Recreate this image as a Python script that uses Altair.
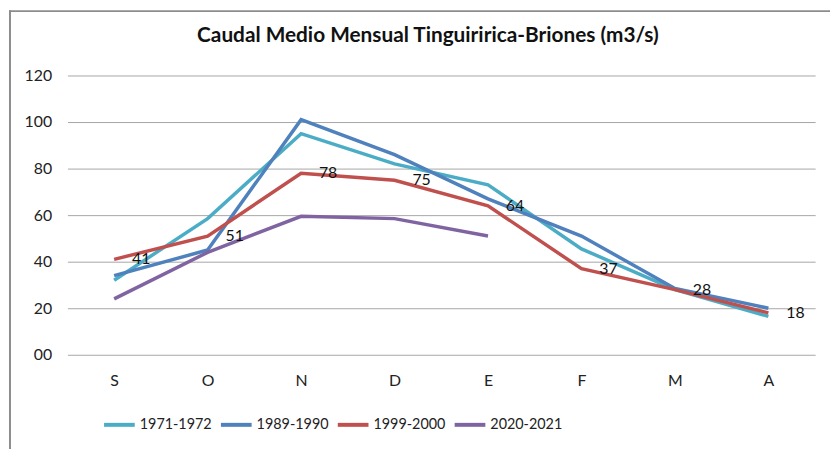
import altair as alt
import pandas as pd

months = ["S", "O", "N", "D", "E", "F", "M", "A"]
series_names = ["1971-1972", "1989-1990", "1999-2000", "2020-2021"]
s1971 = [32, 58.5, 95, 82, 73, 45.5, 28, 16.5]
s1989 = [34, 45, 101, 86, 67, 51, 28.5, 20]
s1999 = [41, 51, 78, 75, 64, 37, 28, 18]
s2020 = [24, 44, 59.5, 58.5, 51]
colors = ["#4BACC6", "#4F81BD", "#C0504D", "#8064A2"]
y_ticks = [0, 20, 40, 60, 80, 100, 120]
title_text = "Caudal Medio Mensual Tinguiririca-Briones (m3/s)"

FONT = "Lato"

rows = []
for name, vals in zip(series_names, [s1971, s1989, s1999, s2020]):
    for i, v in enumerate(vals):
        rows.append({"mes": months[i], "serie": name, "caudal": v})
df = pd.DataFrame(rows)

x_enc = alt.X("mes:N", sort=months, title=None,
              scale=alt.Scale(type="point", padding=0.5),
              axis=alt.Axis(grid=False, ticks=False, domain=False, labelAngle=0,
                            labelFontSize=16, labelPadding=18, labelColor="#222",
                            labelFont=FONT))
y_enc = alt.Y("caudal:Q", title=None,
              scale=alt.Scale(domain=[0, 120], nice=False),
              axis=alt.Axis(values=y_ticks, grid=True, gridColor="#a6a6a6", gridWidth=1,
                            ticks=False, domain=False, labelFontSize=16, labelPadding=16,
                            labelColor="#222", labelFont=FONT,
                            labelExpr="datum.value == 0 ? '00' : datum.label"))

lines = alt.Chart(df).mark_line(strokeWidth=3.5).encode(
    x=x_enc,
    y=y_enc,
    color=alt.Color("serie:N", sort=series_names,
                    scale=alt.Scale(domain=series_names, range=colors),
                    legend=alt.Legend(orient="none", legendX=35, legendY=335,
                                      direction="horizontal", title=None,
                                      symbolType="stroke", symbolStrokeWidth=4,
                                      symbolSize=961, labelFontSize=14.5,
                                      labelFont=FONT, labelColor="#222",
                                      labelOffset=3, columnPadding=1)),
)

labels = alt.Chart(df).transform_filter(
    alt.datum.serie == "1999-2000"
).mark_text(align="left", baseline="middle", dx=18, fontSize=16, font=FONT,
            color="#111").encode(
    x=alt.X("mes:N", sort=months),
    y=alt.Y("caudal:Q"),
    text=alt.Text("caudal:Q", format=".0f"),
)

frame_df = pd.DataFrame({"t": [title_text]})
title_mark = alt.Chart(frame_df).mark_text(
    fontSize=21, fontWeight="bold", font=FONT, color="#111",
    align="center", baseline="middle").encode(
    x=alt.value(364), y=alt.value(-40), text="t:N")
left_border = alt.Chart(frame_df).mark_rule(color="#8c8c8c", strokeWidth=2).encode(
    x=alt.value(-58), y=alt.value(-66), y2=alt.value(380))
top_border = alt.Chart(frame_df).mark_rule(color="#8c8c8c", strokeWidth=2).encode(
    x=alt.value(-59), x2=alt.value(775), y=alt.value(-65))

chart = alt.layer(lines, labels, title_mark, left_border, top_border).properties(
    width=755,
    height=282,
    padding={"left": 60, "top": 66, "right": 15, "bottom": 93},
    autosize=alt.AutoSizeParams(type="none"),
).configure_view(stroke=None)

chart.save("out.html", embed_options={"renderer": "svg", "actions": False})
